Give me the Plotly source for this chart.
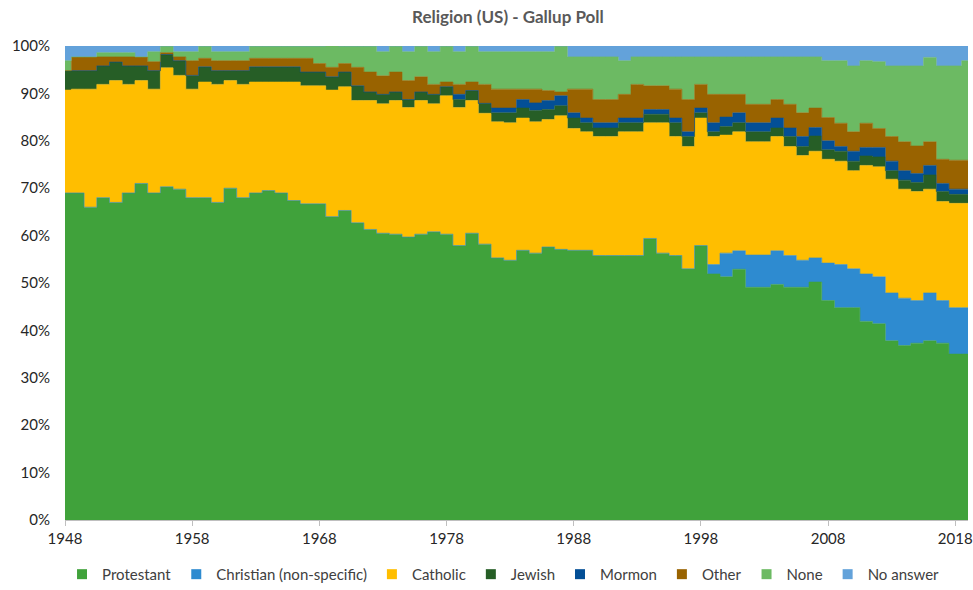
import plotly.graph_objects as go

years = list(range(1948, 2020))

protestant = [69, 69, 66, 68, 67, 69, 71, 69, 70.3, 69.8, 68, 68, 67, 70, 68, 69, 69.5, 69, 67.4, 66.7,
              66.7, 64, 65.3, 62.7, 61.3, 60.5, 60.3, 59.7, 60.3, 60.8, 60.3, 57.9, 60.5, 58.2, 55.3, 54.8,
              56.9, 56.3, 57.6, 57.1, 56.9, 56.9, 55.8, 55.8, 55.8, 55.8, 59.4, 56.3, 55.8, 53, 57.9, 51.9,
              51.3, 52.9, 49.1, 49.1, 49.7, 49.1, 49.1, 50.2, 46.3, 44.8, 44.8, 41.9, 41.4, 37.8, 36.8, 37.3,
              37.8, 37.3, 35, 35]
christian = [0] * 51 + [2.0, 5.0, 3.9, 6.8, 6.8, 7.1, 6.7, 5.7, 5.1, 7.9, 9.1, 8.2, 10.0, 9.9, 10.1, 10.0,
                        9.0, 10.1, 9.0, 9.8, 9.8]
catholic = [21.7, 21.9, 24.9, 23.9, 25.7, 22.9, 21.7, 21.9, 25.1, 24.0, 22.9, 24.4, 24.9, 22.7, 23.9, 23.4,
            22.9, 23.4, 25.0, 24.9, 24.9, 26.7, 26.1, 25.8, 27.2, 27.3, 28.2, 27.3, 28.2, 27.0, 29.2, 29.1,
            28.0, 27.6, 28.7, 29.0, 27.9, 27.7, 26.9, 28.2, 25.7, 25.0, 25.1, 25.1, 26.1, 26.1, 24.4, 27.5,
            25.1, 25.8, 26.9, 27.0, 24.9, 25.1, 23.9, 23.9, 24.1, 23.0, 22.1, 22.5, 21.9, 21.8, 20.7, 22.9,
            23.2, 24.0, 23.0, 23.0, 21.9, 20.9, 22.0, 22.0]
jewish = [4.1, 3.9, 3.9, 3.9, 3.9, 3.9, 3.1, 3.9, 2.8, 3.1, 2.9, 3.2, 2.9, 2.1, 2.9, 3.2, 3.2, 3.2, 3.2, 2.9,
          2.9, 2.8, 3.1, 3.1, 1.8, 2.0, 1.8, 1.7, 1.8, 2.0, 1.9, 1.7, 2.1, 2.1, 1.9, 2.1, 2.1, 2.4, 2.1, 2.1,
          2.2, 1.9, 1.8, 1.8, 1.9, 1.9, 1.8, 1.8, 2.9, 2.1, 1.1, 1.0, 1.8, 1.9, 2.1, 2.1, 1.8, 2.1, 1.9, 3.2,
          2.0, 2.1, 2.0, 2.0, 2.1, 1.8, 1.9, 1.9, 3.0, 2.1, 1.9, 1.9]
mormon = [0] * 31 + [1.1, 0, 0, 1.0, 1.0, 1.8, 1.6, 1.9, 2.1, 1.1, 1.0, 1.1, 1.1, 1.0, 1.0, 1.0, 1.0, 1.0,
                     1.0, 1.0, 1.9, 2.0, 2.1, 1.9, 1.9, 2.1, 1.8, 2.1, 1.8, 1.9, 1.0, 2.1, 1.8, 2.0, 2.0,
                     2.0, 1.9, 2.0, 1.7, 1.1, 1.1]
other = [0, 2.9, 2.9, 1.9, 1.1, 1.9, 1.9, 1.9, 0.4, 0.8, 3.1, 1.8, 2.1, 2.1, 2.1, 1.8, 1.8, 1.8, 1.8, 2.9,
         1.8, 2.0, 1.8, 3.9, 4.2, 3.9, 4.2, 4.0, 3.2, 2.1, 1.0, 2.1, 1.8, 4.0, 4.0, 4.0, 2.2, 2.9, 2.1, 0.8,
         5.0, 6.1, 4.9, 4.9, 5.0, 7.1, 5.0, 5.0, 6.1, 6.8, 5.0, 6.0, 4.8, 3.9, 3.9, 3.9, 3.9, 5.0, 5.0, 4.1,
         4.9, 4.9, 4.1, 5.1, 4.0, 5.2, 6.1, 5.8, 5.0, 5.1, 6.1, 6.1]
none = [2.1, 0, 0, 0.9, 0.9, 0.9, 0, 2.1, 1.4, 1.1, 1.9, 2.6, 1.9, 1.9, 1.9, 2.6, 2.6, 2.6, 2.6, 2.6,
        3.7, 4.6, 3.7, 4.5, 5.5, 5.1, 5.5, 6.1, 6.5, 6.9, 7.6, 6.9, 7.6, 6.9, 7.9, 7.9, 7.9, 7.9, 8.2, 9.7,
        6.8, 6.8, 9.0, 9.0, 7.1, 5.8, 6.1, 6.1, 6.8, 9.0, 5.8, 7.9, 7.9, 7.9, 10.0, 10.0, 9.0, 10.0, 11.8,
        10.8, 12.0, 13.2, 13.9, 13.2, 14.1, 14.9, 16.0, 16.9, 17.8, 19.7, 19.9, 21.0]
no_answer = [3.1, 2.3, 2.3, 1.4, 1.4, 1.4, 2.3, 1.2, 0, 1.2, 1.2, 0, 1.2, 1.2, 1.2, 0, 0, 0, 0, 0,
             0, 0, 0, 0, 0, 1.2, 0, 1.2, 0, 1.2, 0, 1.2, 0, 1.2, 1.2, 1.2, 1.2, 1.2, 1.2, 0,
             2.3, 2.3, 2.3, 2.3, 3.1, 2.3, 2.3, 2.3, 2.3, 2.3, 2.3, 2.3, 2.3, 2.3, 2.3, 2.3, 2.3, 2.3, 2.3,
             2.3, 3.1, 3.1, 4.2, 3.1, 3.3, 4.2, 4.2, 4.2, 2.4, 4.2, 4.2, 3.1]

series_names = ["Protestant", "Christian (non-specific)", "Catholic", "Jewish", "Mormon", "Other", "None",
                "No answer"]
series_values = [protestant, christian, catholic, jewish, mormon, other, none, no_answer]
colors = ["#40A23B", "#2E8BD0", "#FFBE00", "#265E26", "#034F96", "#996300", "#6CBA63", "#63A2DA"]

x_ticks = [1948, 1958, 1968, 1978, 1988, 1998, 2008, 2018]
y_ticks = [0, 10, 20, 30, 40, 50, 60, 70, 80, 90, 100]
y_labels = [f"{v}%" for v in y_ticks]

fig = go.Figure()
for name, vals, col in zip(series_names, series_values, colors):
    fig.add_trace(go.Scatter(
        x=years, y=vals, name=name, stackgroup="one", mode="lines",
        line=dict(shape="hvh", width=0.6, color=col), fillcolor=col,
        showlegend=False, hoverinfo="x+y+name"))
for name, col in zip(series_names, colors):
    fig.add_trace(go.Scatter(
        x=[None], y=[None], name=name, mode="markers",
        marker=dict(symbol="square", size=10, color=col), showlegend=True))

fig.update_layout(
    width=973, height=590,
    paper_bgcolor="white", plot_bgcolor="white",
    margin=dict(l=65, r=5, t=46, b=70, autoexpand=False),
    font=dict(family="Lato, Open Sans, sans-serif", size=15, color="#404040"),
    title=dict(text="<b>Religion (US) - Gallup Poll</b>", x=0.522, xanchor="center", y=0.971, yanchor="middle",
               font=dict(size=17, color="#595959")),
    showlegend=True,
    legend=dict(orientation="h", xref="container", x=0.5175, xanchor="center", y=-0.08, yanchor="top",
                font=dict(size=15, color="#404040"), traceorder="normal", itemwidth=30,
                tracegroupgap=0),
    xaxis=dict(range=[1948, 2019], tickmode="array", tickvals=x_ticks,
               ticktext=[str(v) for v in x_ticks], showgrid=False, zeroline=False, automargin=False,
               ticks="outside", ticklen=5, tickcolor="#BFBFBF", showline=True, linecolor="#BFBFBF",
               tickfont=dict(size=15, color="#262626")),
    yaxis=dict(range=[0, 100], tickmode="array", tickvals=y_ticks, ticktext=y_labels, automargin=False,
               showgrid=False, zeroline=False, showline=False, ticks="", ticklabelstandoff=14,
               tickfont=dict(size=15, color="#262626")),
)

fig.write_html("out.html", config={"displayModeBar": False},
               post_script="document.body.style.margin='0';document.body.style.overflow='hidden';")
